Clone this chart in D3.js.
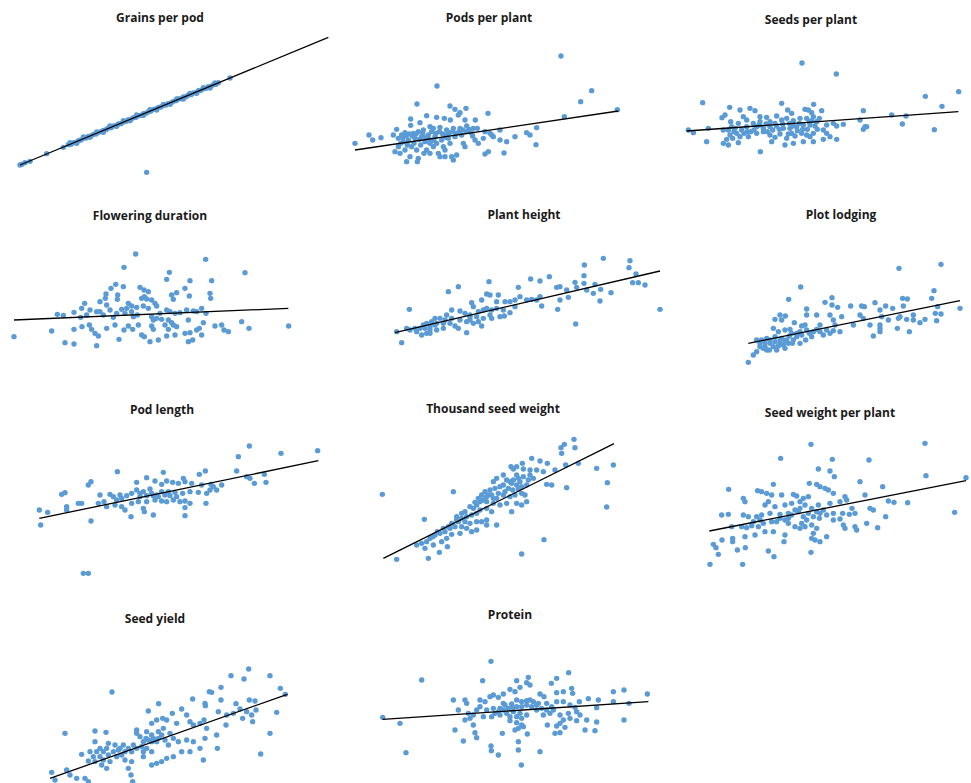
<!DOCTYPE html>
<html>
<head>
<meta charset="utf-8">
<script src="https://cdn.jsdelivr.net/npm/d3@7"></script>
<style>
  body { margin: 0; background: #fff; }
  svg { display: block; }
</style>
</head>
<body>
<script>

// trait names, one per panel
var traits = ["Grains per pod", "Pods per plant", "Seeds per plant",
  "Flowering duration", "Plant height", "Plot lodging",
  "Pod length", "Thousand seed weight", "Seed weight per plant",
  "Seed yield", "Protein"];

// observations, [x, y] in plot units
var grainsPerPod = [[60,105],[66,107],[75,112],[90,116],[140,139],[190,158],[205,166],[213,167],[220,172],[228,173],
  [235,178],[243,180],[250,185],[258,186],[265,191],[273,192],[280,197],[288,198],[295,203],[303,205],[310,209],[318,211],
  [325,216],[333,217],[340,222],[348,223],[355,228],[363,229],[370,234],[378,236],[385,241],[393,242],[400,247],[408,248],
  [415,253],[423,254],[430,259],[438,260],[445,265],[453,267],[460,272],[468,273],[475,278],[483,279],[490,284],[498,285],
  [505,290],[513,291],[520,296],[528,298],[535,303],[543,304],[550,309],[558,310],[565,315],[573,316],[580,321],[588,322],
  [595,328],[603,329],[610,334],[618,335],[625,340],[633,341],[640,346],[648,347],[655,352],[690,366],[440,83],
  [210,172],[230,170],[250,189],[270,188],[290,204],[310,203],[330,222],[350,221],[370,238],[390,238],[410,255],[430,254],
  [450,271],[470,270],[490,287],[510,287],[530,303],[550,303],[570,320],[590,320],[610,337],[630,336],[645,351]];

var podsPerPlant = [[693,432],[321,342],[785,328],[752,295],[862,271],[703,250],[261,288],[474,260],[620,217],[618,166],
  [522,141],[75,170],[117,195],[128,180],[153,187],[360,282],[375,272],[390,262],[408,275],[385,255],[290,253],[242,243],
  [320,248],[343,245],[361,240],[405,240],[436,240],[242,224],[270,232],[300,220],[200,212],[190,195],[215,195],[225,202],
  [250,200],[265,205],[280,210],[310,215],[330,218],[350,210],[370,215],[390,215],[410,222],[430,215],[442,215],[410,205],
  [395,195],[375,190],[355,185],[335,180],[315,190],[295,195],[275,190],[255,185],[235,180],[220,175],[205,160],[195,145],
  [210,140],[225,150],[245,160],[260,150],[265,125],[262,115],[240,130],[300,170],[285,175],[320,170],[340,160],[325,140],
  [330,130],[365,130],[380,135],[400,170],[405,160],[435,180],[445,170],[460,185],[485,195],[490,190],[475,145],[465,138],
  [510,210],[510,180],[530,175],[555,190],[590,202],[600,195],[480,200],[465,205],[350,195],[360,170],[345,150],[310,160],
  [290,150],[230,115],[370,120],[345,130],
  [205,185],[218,188],[228,192],[238,198],[248,192],[258,198],[268,182],[278,200],[288,188],[298,182],[305,205],[318,200],
  [328,205],[338,198],[348,188],[358,202],[368,205],[378,200],[388,205],[398,210],[418,212],[425,200],[428,192],[212,170],
  [232,165],[252,170],[272,165],[292,178],[312,178],[282,140],[300,140]];

var seedsPerPlant = [[426,411],[529,378],[896,325],[796,311],[846,281],[128,292],[365,290],[461,287],[209,278],[240,270],
  [270,275],[285,268],[195,255],[186,247],[250,250],[300,250],[320,248],[350,252],[383,270],[395,260],[435,272],[445,270],
  [455,262],[485,268],[610,268],[695,255],[738,252],[600,240],[260,240],[212,235],[235,230],[280,230],[300,235],[330,235],
  [345,230],[365,240],[380,245],[400,238],[420,245],[440,245],[460,250],[470,235],[500,225],[520,230],[530,222],[550,227],
  [85,210],[100,202],[145,215],[190,210],[205,210],[225,215],[245,210],[260,220],[290,220],[310,215],[330,220],[350,222],
  [370,215],[390,215],[410,220],[430,225],[450,225],[465,222],[490,210],[500,200],[510,190],[615,220],[610,212],[620,220],
  [727,228],[823,211],[230,200],[240,190],[210,195],[200,182],[190,170],[205,165],[235,172],[265,190],[290,200],[310,205],
  [330,195],[345,188],[360,198],[380,185],[395,200],[405,192],[425,200],[440,195],[450,190],[460,200],[400,170],[375,165],
  [430,175],[460,175],[490,182],[530,182],[140,175],[301,145],[335,175],
  [215,220],[222,205],[252,200],[272,205],[282,210],[298,225],[318,228],[338,210],[358,212],[368,228],[388,230],[398,222],
  [412,208],[418,230],[428,212],[442,212],[448,235],[455,238],[472,212],[478,245],[385,198],[322,205],[262,205],[218,185]];

var floweringDuration = [[407,438],[617,422],[372,398],[735,382],[508,383],[500,362],[570,358],[635,358],[347,347],[370,340],
  [333,335],[318,318],[316,305],[353,315],[352,302],[420,338],[432,330],[445,325],[433,310],[425,305],[440,303],[455,300],
  [465,290],[470,282],[515,315],[520,302],[530,322],[555,335],[568,312],[630,320],[632,305],[254,290],[300,295],[320,285],
  [385,290],[395,282],[410,278],[430,282],[445,275],[380,275],[365,272],[350,260],[330,270],[300,265],[290,265],[270,270],
  [245,275],[222,263],[172,257],[190,254],[242,248],[260,255],[310,255],[340,248],[375,260],[395,265],[412,255],[400,250],
  [455,250],[470,245],[480,260],[500,270],[510,265],[525,260],[540,262],[560,270],[580,267],[590,265],[605,275],[618,260],
  [460,240],[485,242],[505,240],[515,232],[495,225],[520,225],[505,212],[530,220],[565,240],[610,232],[645,222],[665,225],
  [672,210],[685,205],[725,235],[747,215],[866,222],[42,190],[155,207],[195,172],[222,168],[222,212],[246,220],[268,225],
  [275,212],[285,200],[295,192],[320,215],[345,225],[357,182],[290,163],[372,210],[385,222],[398,212],[415,225],[425,195],
  [433,190],[455,222],[460,212],[475,180],[500,192],[525,195],[555,200],[570,202],[590,210],[598,215],[578,180],[565,175],
  [605,195],[450,175]];

var plantHeight = [[820,425],[763,405],[900,418],[897,397],[918,378],[762,373],[908,352],[925,352],[945,345],[762,350],
  [795,347],[770,330],[790,320],[812,332],[843,322],[810,297],[737,228],[990,272],[683,272],[658,370],[630,357],[602,363],
  [477,355],[385,340],[355,325],[565,338],[690,340],[680,338],[710,330],[735,353],[740,338],[715,308],[690,300],[635,282],
  [630,310],[620,300],[605,302],[590,300],[570,310],[555,300],[540,295],[525,295],[555,280],[500,295],[505,315],[480,315],
  [470,318],[455,300],[425,292],[430,280],[445,265],[460,270],[470,275],[485,270],[500,275],[520,270],[540,262],[510,250],
  [523,252],[485,245],[460,245],[440,250],[420,255],[405,260],[390,267],[365,270],[350,255],[330,245],[315,245],[305,235],
  [290,230],[280,225],[270,215],[255,215],[240,210],[238,272],[230,215],[200,205],[215,172],[260,205],[275,195],[290,200],
  [300,200],[315,225],[340,230],[360,230],[375,222],[390,240],[410,235],[420,240],[430,230],[445,235],[455,222],[410,202],
  [385,215],[340,215],[320,210],[300,210],
  [320,230],[345,240],[365,245],[420,250],[480,255],[300,220],[285,215]];

var plotLodging = [[843,407],[717,395],[422,339],[386,302],[822,328],[815,305],[728,305],[742,303],[495,293],[516,307],
  [533,278],[516,285],[572,282],[605,282],[613,280],[645,292],[677,282],[698,275],[730,282],[833,280],[843,258],[900,275],
  [826,260],[440,273],[360,255],[345,242],[365,240],[376,252],[403,232],[425,222],[435,225],[440,255],[470,255],[480,225],
  [510,255],[520,240],[525,225],[545,250],[580,225],[600,255],[610,245],[630,225],[660,270],[665,250],[685,240],[715,245],
  [720,250],[740,242],[760,255],[760,240],[780,232],[795,242],[830,238],[660,225],[660,215],[640,192],[660,205],[712,215],
  [748,205],[340,215],[355,205],[375,210],[390,212],[395,200],[410,200],[420,205],[440,210],[460,205],[480,205],[490,195],
  [510,200],[520,208],[540,205],[455,190],[437,180],[400,180],[380,180],[365,185],[345,190],[320,185],[305,180],[290,180],
  [330,170],[340,160],[355,162],[370,165],[375,155],[320,150],[310,155],[290,145],[280,135],[265,113],[350,150],[397,170],
  [420,170],
  [300,170],[315,172],[330,180],[345,175],[360,180],[375,178],[388,192],[410,190],[425,195],[448,200],[470,212],[500,210],
  [315,160],[328,150],[300,160],[360,170],[385,170]];

var podLength = [[748,447],[953,433],[843,425],[715,415],[352,370],[490,368],[616,372],[710,372],[598,362],[550,350],
  [555,340],[273,340],[265,330],[185,302],[195,307],[410,338],[440,352],[465,342],[485,332],[500,342],[518,338],[535,335],
  [575,335],[605,330],[633,332],[640,325],[665,330],[740,355],[750,350],[793,362],[763,335],[798,338],[650,315],[630,315],
  [620,305],[595,308],[570,310],[548,305],[525,308],[505,310],[485,310],[455,305],[430,310],[410,315],[395,305],[380,298],
  [360,300],[340,295],[330,302],[300,300],[312,280],[295,275],[320,265],[345,270],[365,265],[375,255],[395,275],[415,280],
  [440,280],[465,285],[485,282],[500,280],[520,285],[540,280],[555,282],[570,275],[618,275],[433,250],[430,260],[460,240],
  [393,235],[555,262],[555,238],[245,275],[235,275],[200,265],[200,255],[143,248],[118,255],[122,210],[273,222],[250,65],
  [265,65],
  [420,295],[440,298],[460,298],[475,295],[495,300],[510,298],[530,295],[450,318],[470,300],[420,305],[350,285],[365,290]];

var thousandSeedWeight = [[732,467],[703,452],[735,442],[693,442],[695,425],[605,410],[577,395],[630,402],[652,395],[543,385],
  [550,378],[560,385],[580,378],[600,375],[620,375],[640,370],[675,375],[707,390],[745,395],[800,380],[850,390],[832,337],
  [830,264],[710,322],[650,332],[665,330],[157,302],[370,310],[283,227],[575,123],[642,166],[200,107],[295,110],[328,128],
  [352,145],[365,182],[545,250],[500,210],[470,225],[520,360],[500,350],[490,340],[530,345],[550,345],[565,350],[580,355],
  [595,345],[610,350],[545,335],[560,330],[575,325],[590,330],[510,325],[495,320],[480,315],[465,310],[455,300],[470,295],
  [485,300],[500,290],[520,300],[540,295],[555,300],[575,305],[585,300],[590,280],[575,270],[560,275],[530,275],[510,270],
  [490,275],[470,280],[450,280],[440,270],[430,260],[450,255],[470,260],[485,250],[440,245],[425,240],[410,235],[395,230],
  [380,235],[385,220],[405,220],[420,215],[440,220],[455,220],[470,210],[440,195],[410,200],[395,205],[375,205],[360,200],
  [345,190],[330,185],[315,180],[300,170],[290,160],[275,155],[260,150],[285,140],[310,150],[335,160],[350,170],[390,185],
  [425,190],
  [520,330],[535,320],[548,315],[565,318],[540,340],[525,310],[505,305],[490,290],[475,300],[460,285],[445,290],[435,278],
  [420,265],[405,250],[395,245],[380,225],[365,215],[355,205],[340,200],[322,190],[308,175],[560,360],[570,340],[600,360]];

var seedWeightPerPlant = [[453,452],[795,455],[362,410],[517,407],[627,405],[475,378],[510,372],[523,355],[798,358],[918,352],
  [448,335],[470,332],[480,325],[495,320],[505,315],[520,305],[600,340],[668,325],[206,317],[293,313],[305,310],[320,305],
  [335,300],[340,332],[365,300],[400,302],[410,297],[445,295],[430,290],[555,295],[615,300],[540,280],[560,285],[685,282],
  [702,278],[743,277],[630,260],[640,255],[576,260],[250,290],[255,280],[325,280],[315,270],[345,265],[375,270],[395,275],
  [420,280],[435,270],[455,260],[475,270],[490,255],[510,275],[520,245],[548,245],[568,242],[585,245],[677,235],[884,248],
  [185,240],[205,242],[250,240],[265,235],[290,235],[305,240],[330,245],[360,242],[385,245],[405,255],[415,250],[420,260],
  [445,245],[460,235],[478,230],[500,240],[520,225],[540,228],[550,210],[555,200],[585,205],[590,195],[620,215],[653,202],
  [215,205],[245,205],[260,202],[275,208],[295,205],[310,215],[335,220],[350,220],[375,225],[385,215],[405,205],[420,200],
  [435,205],[455,210],[470,200],[460,185],[465,165],[480,160],[500,175],[455,170],[375,180],[372,160],[340,190],[315,190],
  [285,180],[255,175],[218,170],[218,160],[186,165],[168,142],[175,122],[232,135],[256,142],[325,132],[342,115],[453,128],
  [150,92],[248,92],[160,152],
  [385,230],[395,240],[430,235],[440,225],[425,215],[470,250],[480,245],[300,225],[280,220],[360,230]];

var seedYield = [[746,408],[693,388],[732,378],[810,388],[663,353],[628,340],[635,338],[841,350],[856,332],[336,339],
  [476,304],[578,318],[615,305],[616,298],[663,315],[708,304],[748,315],[765,312],[720,288],[740,280],[768,285],[755,270],
  [830,278],[728,260],[758,250],[700,275],[680,270],[655,280],[678,240],[612,255],[600,245],[620,230],[580,240],[560,270],
  [570,250],[545,288],[517,275],[530,245],[500,255],[488,260],[470,255],[455,245],[445,282],[490,230],[475,220],[455,210],
  [440,220],[410,225],[420,205],[438,200],[455,190],[475,200],[495,195],[520,200],[535,190],[560,195],[580,190],[600,170],
  [615,200],[650,210],[652,170],[610,135],[570,160],[545,160],[520,145],[500,140],[485,130],[470,125],[455,120],[430,145],
  [440,170],[425,175],[400,180],[385,170],[375,160],[360,170],[345,180],[325,185],[320,170],[310,160],[300,145],[290,160],
  [270,160],[245,152],[265,132],[285,130],[305,120],[320,110],[330,130],[350,145],[375,135],[395,130],[410,215],[370,180],
  [385,110],[393,90],[398,70],[195,215],[285,222],[318,218],[285,190],[155,98],[165,75],[200,105],[210,90],[230,80],
  [255,80],[265,70],[810,215],[782,153],
  [325,150],[340,160],[355,165],[365,150],[395,160],[410,170],[430,190],[445,195],[460,200],[470,190],[485,210],[510,215],
  [300,170],[280,145],[310,135],[430,160],[455,160],[505,180]];

var protein = [[483,416],[716,382],[275,360],[458,358],[595,368],[560,358],[590,352],[680,365],[664,350],[725,335],
  [728,320],[700,325],[680,322],[642,310],[630,318],[600,345],[570,338],[540,332],[555,325],[520,318],[505,308],[490,315],
  [480,310],[465,295],[450,300],[405,300],[370,300],[410,290],[450,280],[470,270],[490,275],[510,275],[525,285],[545,288],
  [560,300],[575,295],[590,298],[610,295],[625,290],[650,290],[665,280],[680,295],[700,295],[720,285],[735,278],[748,295],
  [775,304],[805,300],[850,325],[882,330],[952,318],[850,295],[897,290],[800,277],[385,270],[415,260],[430,255],[440,270],
  [460,250],[485,250],[510,255],[530,260],[550,265],[570,260],[590,255],[620,270],[640,255],[660,260],[690,255],[715,260],
  [740,265],[750,255],[720,245],[700,240],[690,230],[680,222],[705,218],[740,238],[770,240],[800,234],[882,240],[158,248],
  [210,230],[405,240],[420,245],[430,225],[375,210],[435,202],[440,187],[400,177],[517,200],[540,238],[560,232],[575,225],
  [565,215],[580,220],[555,210],[592,198],[565,175],[652,225],[675,200],[690,202],[765,210],[795,208],[483,162],[484,148],
  [505,135],[565,150],[630,145],[574,105],[228,142],
  [495,260],[505,265],[520,270],[535,275],[548,278],[560,280],[575,280],[590,285],[605,280],[620,285],[635,275],[650,270],
  [670,270],[560,250],[575,245],[540,250],[520,290],[600,300]];

// fitted trend lines, [x0, y0, x1, y1]
var trends = [[60,105,985,488],[75,150,865,267],[80,207,895,265],[42,240,865,275],[195,202,990,387],
  [265,170,900,298],[118,230,955,403],[160,110,852,454],[148,192,918,343],[150,80,862,332],[158,242,955,295]];

var series = [grainsPerPod, podsPerPlant, seedsPerPlant, floweringDuration, plantHeight, plotLodging,
  podLength, thousandSeedWeight, seedWeightPerPlant, seedYield, protein];

// panel frames (left, top) and title anchors
var frames = [[0,0],[330,0],[660,0],[0,200],[330,200],[660,200],[0,395],[330,395],[660,395],[0,605],[330,600]];
var titlePos = [[160,22],[489,22],[811,24],[150,220],[524,219],[841,219],[162,414],[493,413],[830,417],[155,623],[510,619]];

var W = 971, H = 783;

var svg = d3.select("body").append("svg")
    .attr("width", W)
    .attr("height", H);

series.forEach(function(pts, i) {
  var fx = frames[i][0], fy = frames[i][1];
  var x = d3.scaleLinear().domain([0, 990]).range([fx, fx + 330]);
  var y = d3.scaleLinear().domain([600, 0]).range([fy, fy + 200]);

  var g = svg.append("g").attr("class", "panel");

  g.selectAll("circle")
      .data(pts)
    .enter().append("circle")
      .attr("cx", function(d) { return x(d[0]); })
      .attr("cy", function(d) { return y(d[1]); })
      .attr("r", 2.7)
      .attr("fill", "#5b9bd5");

  var t = trends[i];
  g.append("line")
      .attr("x1", x(t[0]))
      .attr("y1", y(t[1]))
      .attr("x2", x(t[2]))
      .attr("y2", y(t[3]))
      .attr("stroke", "#000")
      .attr("stroke-width", 1.3);

  g.append("text")
      .attr("x", titlePos[i][0])
      .attr("y", titlePos[i][1])
      .attr("text-anchor", "middle")
      .attr("font-family", "'Open Sans', sans-serif")
      .attr("font-weight", "bold")
      .attr("font-size", "12px")
      .attr("fill", "#1a1a1a")
      .text(traits[i]);
});
</script>
</body>
</html>
